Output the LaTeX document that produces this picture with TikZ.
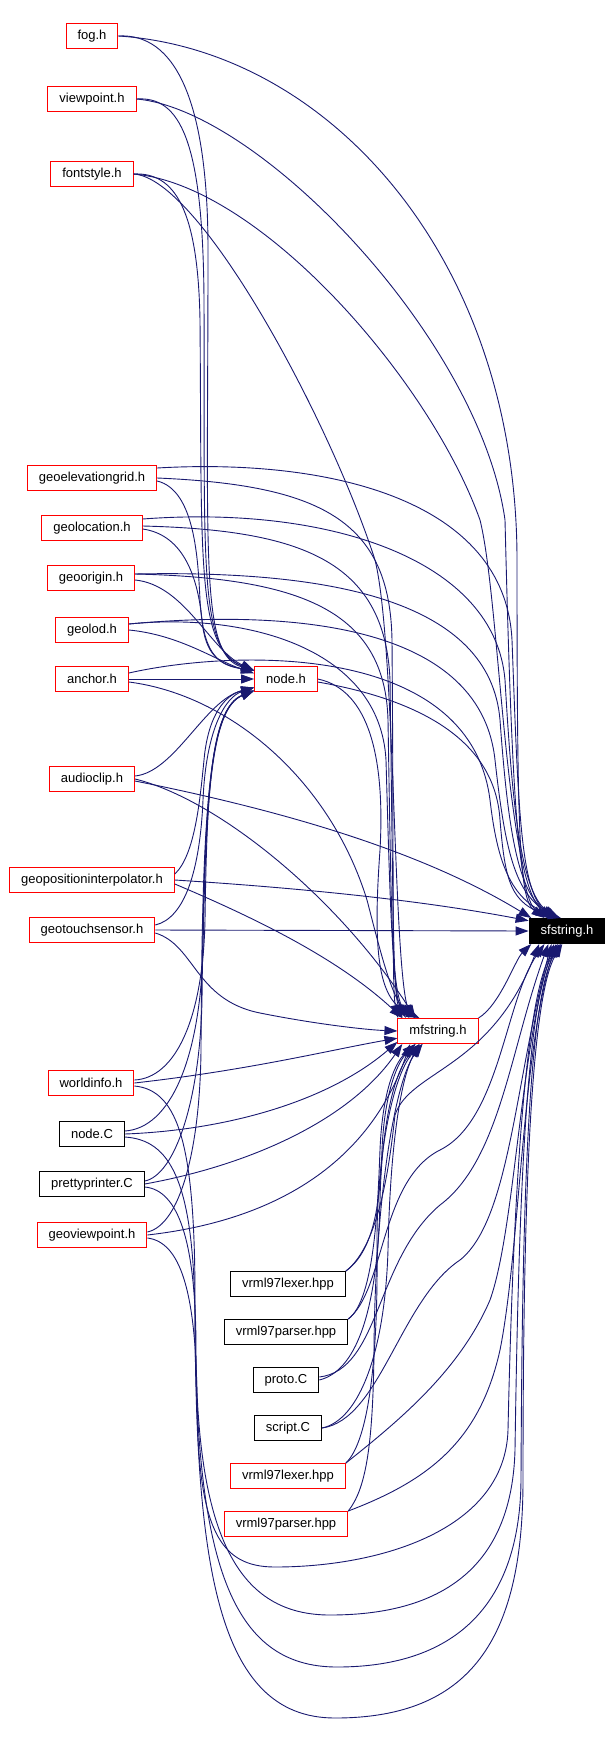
\documentclass[tikz,border=0pt]{standalone}
\usepackage{fontspec}
\setmainfont{Liberation Sans}
\usetikzlibrary{arrows.meta}
\definecolor{edgeblue}{HTML}{191970}
\definecolor{boxred}{HTML}{FF0000}

\begin{document}
\begin{tikzpicture}[x=1pt, y=-1pt,
        every node/.append style={draw, rectangle, minimum height=25pt, inner xsep=11.5pt, inner ysep=0pt, line width=1pt, font=\fontsize{13}{15}\selectfont},
        header/.style={draw=boxred, fill=white},
        source/.style={draw=black, fill=white},
        current/.style={draw=black, fill=black, text=white},
        dep/.style={draw=edgeblue, line width=0.9pt, -{Triangle[length=13pt,width=9pt]}}
    ]
        \useasboundingbox (0,0) rectangle (612,1752);
        \node[header] (fog) at (92,36) {fog.h};
        \node[header] (viewpoint) at (92,99) {viewpoint.h};
        \node[header] (fontstyle) at (92,174) {fontstyle.h};
        \node[header] (elevgrid) at (92,478) {geoelevationgrid.h};
        \node[header] (geoloc) at (92,528) {geolocation.h};
        \node[header] (geoorigin) at (91,578) {geoorigin.h};
        \node[header] (geolod) at (92,630) {geolod.h};
        \node[header] (anchor) at (92,679) {anchor.h};
        \node[header] (audioclip) at (92,779) {audioclip.h};
        \node[header] (geopos) at (92,880) {geopositioninterpolator.h};
        \node[header] (geotouch) at (92,930) {geotouchsensor.h};
        \node[header] (worldinfo) at (91,1083) {worldinfo.h};
        \node[source] (nodeC) at (92,1134) {node.C};
        \node[source] (pprinter) at (92,1184) {prettyprinter.C};
        \node[header] (geoview) at (92,1235) {geoviewpoint.h};
        \node[header] (nodeh) at (286,679) {node.h};
        \node[header] (mfstring) at (438,1031) {mfstring.h};
        \node[current] (sfstring) at (567,931) {sfstring.h};
        \node[source] (lexerC) at (288,1284) {vrml97lexer.hpp};
        \node[source] (parserC) at (286,1332) {vrml97parser.hpp};
        \node[source] (protoC) at (286,1380) {proto.C};
        \node[source] (scriptC) at (288,1428) {script.C};
        \node[header] (lexerH) at (288,1476) {vrml97lexer.hpp};
        \node[header] (parserH) at (286,1524) {vrml97parser.hpp};

        \draw[dep] (fog.east) .. controls (175,33) and (208,100) .. (208,250) .. controls (208,560) and (200,655) .. (nodeh.165);
        \draw[dep] (fog.east) .. controls (330,50) and (517,260) .. (517,560) .. controls (517,850) and (520,900) .. (sfstring.150);
        \draw[dep] (viewpoint.east) .. controls (180,96) and (203,140) .. (204,300) .. controls (205,560) and (198,650) .. (nodeh.165);
        \draw[dep] (viewpoint.east) .. controls (260,110) and (480,340) .. (505,520) .. controls (512,800) and (518,900) .. (sfstring.145);
        \draw[dep] (fontstyle.east) .. controls (175,172) and (198,210) .. (200,320) .. controls (202,560) and (196,648) .. (nodeh.165);
        \draw[dep] (fontstyle.east) .. controls (200,178) and (330,420) .. (375,560) .. controls (395,640) and (393,950) .. (mfstring.155);
        \draw[dep] (fontstyle.east) .. controls (260,185) and (430,380) .. (480,520) .. controls (500,600) and (505,880) .. (sfstring.140);

        \draw[dep] ([yshift=10pt]elevgrid.east) .. controls (330,458) and (505,500) .. (512,640) .. controls (518,800) and (520,890) .. (sfstring.135);
        \draw[dep] (elevgrid.east) .. controls (320,485) and (390,520) .. (392,640) .. controls (394,900) and (392,990) .. (mfstring.162);
        \draw[dep] ([yshift=-3pt]elevgrid.east) .. controls (195,490) and (198,560) .. (200,600) .. controls (203,650) and (215,665) .. (nodeh.165);
        \draw[dep] ([yshift=9pt]geoloc.east) .. controls (330,505) and (495,560) .. (505,680) .. controls (512,800) and (520,890) .. (sfstring.130);
        \draw[dep] ([yshift=2pt]geoloc.east) .. controls (300,530) and (385,560) .. (390,680) .. controls (393,900) and (393,990) .. (mfstring.160);
        \draw[dep] ([yshift=-1pt]geoloc.east) .. controls (185,535) and (198,580) .. (202,620) .. controls (205,655) and (220,665) .. (nodeh.165);
        \draw[dep] ([yshift=4pt]geoorigin.east) .. controls (330,570) and (490,600) .. (500,720) .. controls (508,830) and (518,895) .. (sfstring.125);
        \draw[dep] ([yshift=4pt]geoorigin.east) .. controls (300,578) and (385,610) .. (388,720) .. controls (391,900) and (392,990) .. (mfstring.158);
        \draw[dep] ([yshift=-2pt]geoorigin.east) .. controls (185,585) and (210,650) .. (nodeh.165);
        \draw[dep] ([yshift=6pt]geolod.east) .. controls (280,610) and (480,620) .. (495,760) .. controls (505,850) and (515,895) .. (sfstring.120);
        \draw[dep] ([yshift=6pt]geolod.east) .. controls (250,612) and (380,650) .. (386,760) .. controls (390,900) and (392,990) .. (mfstring.156);
        \draw[dep] (geolod.east) .. controls (180,635) and (215,660) .. (nodeh.170);
        \draw[dep] ([yshift=6pt]anchor.east) .. controls (230,650) and (470,640) .. (490,800) .. controls (497,860) and (510,900) .. (sfstring.118);
        \draw[dep] (anchor.east) -- (nodeh.west);
        \draw[dep] ([yshift=-3pt]anchor.east) .. controls (230,695) and (330,780) .. (367,900) .. controls (380,950) and (392,1000) .. (mfstring.150);

        \draw[dep] (nodeh.east) .. controls (370,690) and (385,760) .. (380,850) .. controls (372,960) and (380,1000) .. (mfstring.145);
        \draw[dep] ([yshift=-3pt]nodeh.east) .. controls (420,700) and (495,740) .. (500,820) .. controls (505,880) and (510,905) .. (sfstring.115);
        \draw[dep] (mfstring.north east) .. controls (500,1005) and (515,960) .. (sfstring.200);

        \draw[dep] ([yshift=3pt]audioclip.east) .. controls (175,772) and (205,700) .. (nodeh.195);
        \draw[dep] (audioclip.east) .. controls (220,800) and (340,900) .. (mfstring.150);
        \draw[dep] ([yshift=-2pt]audioclip.east) .. controls (280,810) and (420,850) .. (sfstring.160);
        \draw[dep] ([yshift=6pt]geopos.east) .. controls (195,855) and (200,800) .. (204,760) .. controls (208,715) and (225,695) .. (nodeh.195);
        \draw[dep] (geopos.east) .. controls (300,888) and (420,900) .. (sfstring.165);
        \draw[dep] ([yshift=-4pt]geopos.east) .. controls (260,920) and (340,960) .. (mfstring.160);
        \draw[dep] ([yshift=5pt]geotouch.east) .. controls (185,918) and (200,870) .. (203,800) .. controls (206,730) and (225,697) .. (nodeh.195);
        \draw[dep] (geotouch.east) -- (sfstring.west);
        \draw[dep] ([yshift=-3pt]geotouch.east) .. controls (195,945) and (195,1000) .. (260,1013) .. controls (320,1025) and (370,1030) .. (mfstring.west);

        \draw[dep] ([yshift=3pt]worldinfo.east) .. controls (175,1078) and (203,1020) .. (205,920) .. controls (207,780) and (212,708) .. (nodeh.200);
        \draw[dep] (worldinfo.east) .. controls (250,1070) and (330,1050) .. (mfstring.190);
        \draw[dep] ([yshift=-3pt]worldinfo.east) .. controls (180,1090) and (195,1150) .. (195,1300) .. controls (195,1560) and (215,1718) .. (335,1718) .. controls (470,1718) and (523,1640) .. (523,1480) .. controls (523,1250) and (528,1000) .. (sfstring.250);
        \draw[dep] ([yshift=3pt]nodeC.east) .. controls (170,1128) and (200,1060) .. (203,950) .. controls (206,790) and (212,708) .. (nodeh.200);
        \draw[dep] (nodeC.east) .. controls (230,1130) and (330,1100) .. (mfstring.195);
        \draw[dep] ([yshift=-3pt]nodeC.east) .. controls (170,1140) and (194,1180) .. (195,1320) .. controls (196,1560) and (230,1667) .. (337,1667) .. controls (460,1667) and (520,1600) .. (521,1480) .. controls (522,1250) and (526,1000) .. (sfstring.245);
        \draw[dep] ([yshift=3pt]pprinter.east) .. controls (175,1175) and (200,1100) .. (202,1000) .. controls (204,800) and (210,708) .. (nodeh.200);
        \draw[dep] (pprinter.east) .. controls (250,1165) and (350,1120) .. (mfstring.200);
        \draw[dep] ([yshift=-3pt]pprinter.east) .. controls (178,1190) and (196,1240) .. (196,1350) .. controls (197,1540) and (240,1615) .. (330,1615) .. controls (450,1615) and (512,1560) .. (515,1450) .. controls (518,1250) and (524,1000) .. (sfstring.240);
        \draw[dep] ([yshift=3pt]geoview.east) .. controls (180,1225) and (200,1150) .. (201,1050) .. controls (202,800) and (210,708) .. (nodeh.200);
        \draw[dep] (geoview.east) .. controls (280,1220) and (370,1160) .. (mfstring.205);
        \draw[dep] ([yshift=-3pt]geoview.east) .. controls (180,1242) and (196,1290) .. (197,1400) .. controls (198,1530) and (220,1567) .. (275,1567) .. controls (380,1567) and (505,1530) .. (508,1430) .. controls (512,1250) and (522,1000) .. (sfstring.235);

        \draw[dep] (lexerC.north east) .. controls (375,1250) and (380,1200) .. (382,1150) .. controls (384,1100) and (395,1065) .. (mfstring.210);
        \draw[dep] (lexerC.north east) .. controls (380,1245) and (390,1160) .. (395,1115) .. controls (410,1070) and (490,1070) .. (sfstring.205);
        \draw[dep] (parserC.north east) .. controls (375,1300) and (378,1200) .. (380,1150) .. controls (382,1100) and (392,1065) .. (mfstring.210);
        \draw[dep] (parserC.north east) .. controls (385,1290) and (380,1180) .. (440,1150) .. controls (500,1120) and (505,1000) .. (sfstring.210);
        \draw[dep] (protoC.east) .. controls (360,1370) and (378,1300) .. (380,1200) .. controls (382,1120) and (395,1070) .. (mfstring.215);
        \draw[dep] ([yshift=3pt]protoC.east) .. controls (380,1370) and (375,1260) .. (440,1205) .. controls (500,1160) and (510,1050) .. (sfstring.215);
        \draw[dep] (scriptC.east) .. controls (360,1420) and (385,1350) .. (388,1250) .. controls (390,1150) and (400,1080) .. (mfstring.215);
        \draw[dep] (scriptC.east) .. controls (380,1420) and (400,1300) .. (460,1260) .. controls (510,1220) and (515,1080) .. (sfstring.220);
        \draw[dep] (lexerH.north east) .. controls (370,1440) and (378,1350) .. (377,1250) .. controls (376,1150) and (395,1070) .. (mfstring.220);
        \draw[dep] (lexerH.north east) .. controls (400,1420) and (460,1370) .. (490,1300) .. controls (515,1230) and (520,1050) .. (sfstring.225);
        \draw[dep] (parserH.north east) .. controls (365,1490) and (373,1450) .. (374,1350) .. controls (375,1200) and (395,1080) .. (mfstring.220);
        \draw[dep] (parserH.north east) .. controls (430,1480) and (480,1440) .. (500,1350) .. controls (520,1250) and (522,1050) .. (sfstring.230);
    \end{tikzpicture}
\end{document}
